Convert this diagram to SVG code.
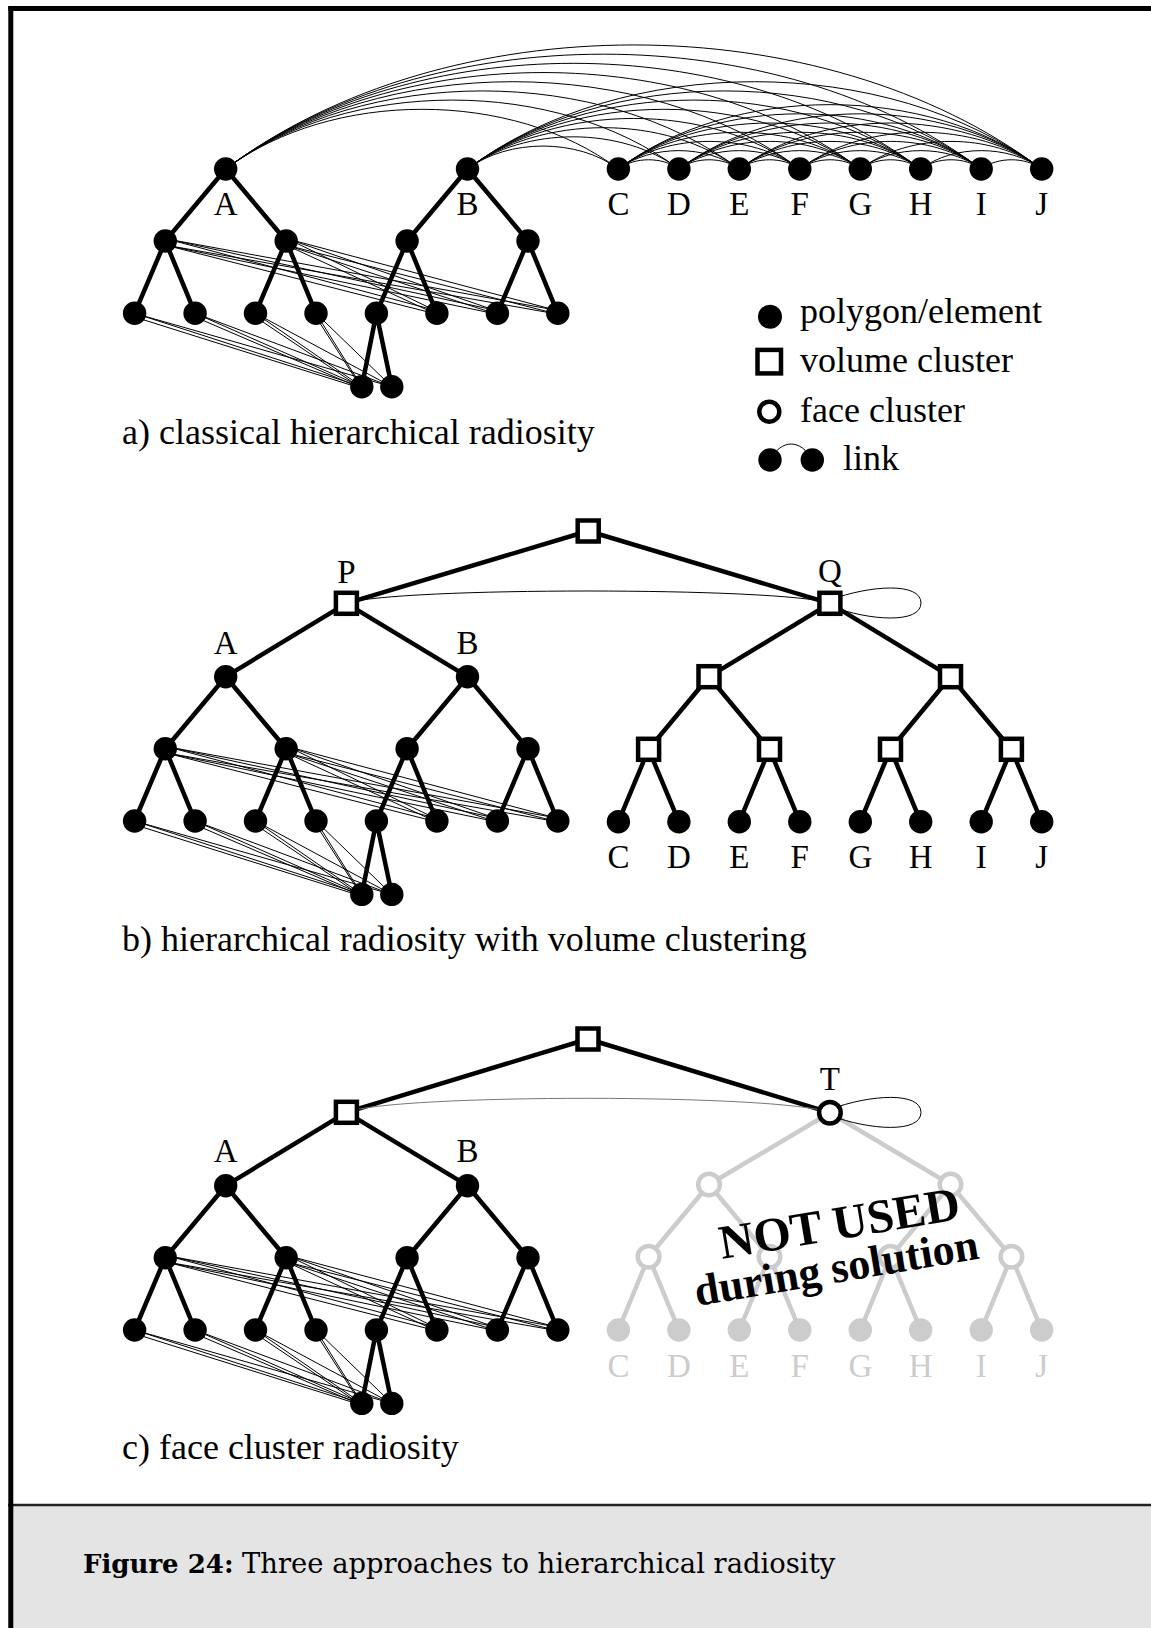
<svg xmlns="http://www.w3.org/2000/svg" width="1151" height="1628" viewBox="0 0 1151 1628">
<style>
.e{stroke:#000;stroke-width:4.5;fill:none}
.g{stroke:#ccc;stroke-width:4.5;fill:none}
.k{stroke:#000;stroke-width:1;fill:none}
.n{fill:#000}
.gn{fill:#ccc}
.v{fill:#fff;stroke:#000;stroke-width:4.5}
.f{fill:#fff;stroke:#000;stroke-width:4.5}
.gf{fill:#fff;stroke:#ccc;stroke-width:4.5}
.t{font-family:"Liberation Serif","Times New Roman",serif;font-size:33px;text-anchor:middle;fill:#000}
.gt{fill:#ccc}
.c{font-family:"Liberation Serif","Times New Roman",serif;font-size:36px;fill:#000}
.nu{font-family:"Liberation Serif","Times New Roman",serif;font-weight:bold;fill:#000}
</style>
<defs>
<path id="leftEdges" d="M225.7,169L165.3,241M225.7,169L286.2,241M467.5,169L407.1,241M467.5,169L528,241M165.3,241L134.6,313.3M165.3,241L195.1,313.3M286.2,241L255.5,313.3M286.2,241L316,313.3M407.1,241L376.4,313.3M407.1,241L436.9,313.3M528,241L497.4,313.3M528,241L557.8,313.3M376.4,313.3L361.8,386.7M376.4,313.3L391.8,386.7"/>
<path id="leftLinks" d="M167,239L434,310M165,245L436,314M167,239L494,310M165,245L496,314M167,239L555,310M165,245L557,314M288,239L434,310M286,245L436,314M288,239L494,310M286,245L496,314M288,239L555,310M286,245L557,314M134.6,313.3L361.8,386.7M134.6,317L361.8,388.5M134.6,313.3L391.8,386.7M195.1,313.3L361.8,386.7M195.1,317L361.8,388.5M195.1,313.3L391.8,386.7M255.5,313.3L361.8,386.7M255.5,317L361.8,388.5M255.5,313.3L391.8,386.7M316,313.3L361.8,386.7M316,317L361.8,388.5M316,313.3L391.8,386.7"/>
</defs>

<rect x="0" y="0" width="1151" height="1628" fill="#fff"/>
<rect x="8" y="1505" width="1143" height="123" fill="#e4e4e4"/>
<line x1="8" y1="1505" x2="1151" y2="1505" stroke="#222" stroke-width="2.5"/>
<line x1="10.8" y1="6" x2="10.8" y2="1628" stroke="#000" stroke-width="5"/>
<line x1="8.3" y1="8.5" x2="1151" y2="8.5" stroke="#000" stroke-width="5"/>

<g id="connectors">
  <g id="conn-a">
    <use href="#leftEdges" class="e"/>
    <use href="#leftLinks" class="k"/>
    <path class="k" d="M225.7,169C331.7,89.4 512.4,89.4 618.4,169M225.7,169C348.1,77.1 556.5,77.1 678.9,169M225.7,169C364.4,64.9 600.6,64.9 739.3,169M225.7,169C380.7,52.6 644.8,52.6 799.8,169M225.7,169C397,40.4 689,40.4 860.3,169M225.7,169C413.4,28.1 733,28.1 920.7,169M225.7,169C429.7,15.9 777.2,15.9 981.2,169M225.7,169C446,3.6 821.4,3.6 1041.7,169"/>
    <path class="k" d="M467.5,169C508.2,138.4 577.7,138.4 618.4,169M467.5,169C524.6,126.1 621.8,126.1 678.9,169M467.5,169C540.9,113.9 665.9,113.9 739.3,169M467.5,169C557.2,101.6 710.1,101.6 799.8,169M467.5,169C573.6,89.4 754.2,89.4 860.3,169M467.5,169C589.9,77.1 798.3,77.1 920.7,169M467.5,169C606.2,64.9 842.5,64.9 981.2,169M467.5,169C622.5,52.6 886.7,52.6 1041.7,169"/>
    <path class="k" d="M618.4,169C634.7,156.7 662.6,156.7 678.9,169M618.4,169C651.1,144.5 706.6,144.5 739.3,169M618.4,169C667.4,132.2 750.8,132.2 799.8,169M618.4,169C683.7,120 795,120 860.3,169M618.4,169C700,107.7 839.1,107.7 920.7,169M618.4,169C716.4,95.4 883.2,95.4 981.2,169M618.4,169C732.7,83.2 927.4,83.2 1041.7,169
M678.9,169C695.2,156.7 723,156.7 739.3,169M678.9,169C711.6,144.5 767.1,144.5 799.8,169M678.9,169C727.9,132.2 811.3,132.2 860.3,169M678.9,169C744.2,120 855.4,120 920.7,169M678.9,169C760.5,107.7 899.6,107.7 981.2,169M678.9,169C776.9,95.4 943.7,95.4 1041.7,169
M739.3,169C755.6,156.7 783.5,156.7 799.8,169M739.3,169C772,144.5 827.6,144.5 860.3,169M739.3,169C788.3,132.2 871.7,132.2 920.7,169M739.3,169C804.6,120 915.9,120 981.2,169M739.3,169C820.9,107.7 960.1,107.7 1041.7,169
M799.8,169C816.1,156.7 844,156.7 860.3,169M799.8,169C832.5,144.5 888,144.5 920.7,169M799.8,169C848.8,132.2 932.2,132.2 981.2,169M799.8,169C865.1,120 976.4,120 1041.7,169
M860.3,169C876.6,156.7 904.4,156.7 920.7,169M860.3,169C893,144.5 948.5,144.5 981.2,169M860.3,169C909.3,132.2 992.7,132.2 1041.7,169
M920.7,169C937,156.7 964.9,156.7 981.2,169M920.7,169C953.4,144.5 1009,144.5 1041.7,169
M981.2,169C997.5,156.7 1025.4,156.7 1041.7,169"/>
  </g>
  <g id="conn-b">
    <g transform="translate(0,507.7)">
      <use href="#leftEdges" class="e"/>
      <use href="#leftLinks" class="k"/>
    </g>
    <path class="e" d="M588.2,531L346.4,603.3M588.2,531L829.9,603.3M346.4,603.3L225.7,676.7M346.4,603.3L467.5,676.7M829.9,603.3L709,676.7M829.9,603.3L950.5,676.7M709,676.7L648.6,749.3M709,676.7L769.5,749.3M950.5,676.7L890.5,749.3M950.5,676.7L1011.4,749.3M648.6,749.3L618.4,821.7M648.6,749.3L678.9,821.7M769.5,749.3L739.3,821.7M769.5,749.3L799.8,821.7M890.5,749.3L860.3,821.7M890.5,749.3L920.7,821.7M1011.4,749.3L981.2,821.7M1011.4,749.3L1041.7,821.7"/>
    <path class="k" d="M346.4,603.3C394.4,586.9 781.9,586.9 829.9,603.3"/>
    <path class="k" d="M830,600C870,585 921,582 921,603C921,624 870,621 830,606"/>
  </g>
  <g id="conn-c">
    <g transform="translate(0,1016.7)">
      <use href="#leftEdges" class="e"/>
      <use href="#leftLinks" class="k"/>
    </g>
    <path class="g" d="M829.9,1112.7L709,1184.5M829.9,1112.7L950.5,1184.5M709,1184.5L648.6,1256.7M709,1184.5L769.5,1256.7M950.5,1184.5L890.5,1256.7M950.5,1184.5L1011.4,1256.7M648.6,1256.7L618.4,1330M648.6,1256.7L678.9,1330M769.5,1256.7L739.3,1330M769.5,1256.7L799.8,1330M890.5,1256.7L860.3,1330M890.5,1256.7L920.7,1330M1011.4,1256.7L981.2,1330M1011.4,1256.7L1041.7,1330"/>
    <path class="e" d="M588,1039L346.4,1112.3M588,1039L829.9,1112.7M346.4,1112.3L225.7,1185.7M346.4,1112.3L467.5,1185.7"/>
    <path d="M346.4,1112.3C394.4,1093.6 781.9,1093.6 829.9,1112.7" fill="none" stroke="#777" stroke-width="1"/>
    <path class="k" d="M830,1109.4C870,1094.4 921,1091.4 921,1112.4C921,1133.4 870,1130.4 830,1115.4"/>
  </g>
</g>

<!-- Tree a -->
<g id="tree-a">
  <g id="a-A"><circle class="n" cx="225.7" cy="169" r="11.7"/><text class="t" x="225.7" y="215">A</text></g>
  <g id="a-B"><circle class="n" cx="467.5" cy="169" r="11.7"/><text class="t" x="467.5" y="215">B</text></g>
  <g id="a-L0"><circle class="n" cx="165.3" cy="241" r="11.7"/></g>
  <g id="a-L1"><circle class="n" cx="286.2" cy="241" r="11.7"/></g>
  <g id="a-L2"><circle class="n" cx="407.1" cy="241" r="11.7"/></g>
  <g id="a-L3"><circle class="n" cx="528" cy="241" r="11.7"/></g>
  <g id="a-k0"><circle class="n" cx="134.6" cy="313.3" r="11.7"/></g>
  <g id="a-k1"><circle class="n" cx="195.1" cy="313.3" r="11.7"/></g>
  <g id="a-k2"><circle class="n" cx="255.5" cy="313.3" r="11.7"/></g>
  <g id="a-k3"><circle class="n" cx="316" cy="313.3" r="11.7"/></g>
  <g id="a-k4"><circle class="n" cx="376.4" cy="313.3" r="11.7"/></g>
  <g id="a-k5"><circle class="n" cx="436.9" cy="313.3" r="11.7"/></g>
  <g id="a-k6"><circle class="n" cx="497.4" cy="313.3" r="11.7"/></g>
  <g id="a-k7"><circle class="n" cx="557.8" cy="313.3" r="11.7"/></g>
  <g id="a-e1"><circle class="n" cx="361.8" cy="386.7" r="11.7"/></g>
  <g id="a-e2"><circle class="n" cx="391.8" cy="386.7" r="11.7"/></g>
  <g id="a-C"><circle class="n" cx="618.4" cy="169" r="11.7"/><text class="t" x="618.4" y="215">C</text></g>
  <g id="a-D"><circle class="n" cx="678.9" cy="169" r="11.7"/><text class="t" x="678.9" y="215">D</text></g>
  <g id="a-E"><circle class="n" cx="739.3" cy="169" r="11.7"/><text class="t" x="739.3" y="215">E</text></g>
  <g id="a-F"><circle class="n" cx="799.8" cy="169" r="11.7"/><text class="t" x="799.8" y="215">F</text></g>
  <g id="a-G"><circle class="n" cx="860.3" cy="169" r="11.7"/><text class="t" x="860.3" y="215">G</text></g>
  <g id="a-H"><circle class="n" cx="920.7" cy="169" r="11.7"/><text class="t" x="920.7" y="215">H</text></g>
  <g id="a-I"><circle class="n" cx="981.2" cy="169" r="11.7"/><text class="t" x="981.2" y="215">I</text></g>
  <g id="a-J"><circle class="n" cx="1041.7" cy="169" r="11.7"/><text class="t" x="1041.7" y="215">J</text></g>
  <text class="c" x="122" y="444">a) classical hierarchical radiosity</text>
</g>

<!-- Legend -->
<g id="legend">
  <g id="leg-poly"><circle class="n" cx="770" cy="316.7" r="12"/><text class="c" x="800" y="323">polygon/element</text></g>
  <g id="leg-vol"><rect class="v" x="757.5" y="349.9" width="23.5" height="23.5"/><text class="c" x="800" y="371.7">volume cluster</text></g>
  <g id="leg-face"><circle class="f" cx="769.3" cy="411.7" r="10"/><text class="c" x="800" y="421.7">face cluster</text></g>
  <g id="leg-link"><path class="k" d="M770,460C781.4,438.7 800.9,438.7 812.3,460"/><circle class="n" cx="770" cy="460" r="11.7"/><circle class="n" cx="812.3" cy="460" r="11.7"/><text class="c" x="843" y="470">link</text></g>
</g>

<!-- Tree b -->
<g id="tree-b">
  <g id="b-root"><rect class="v" x="577.7" y="520.5" width="21" height="21"/></g>
  <g id="b-P"><rect class="v" x="335.9" y="592.8" width="21" height="21"/><text class="t" x="346.4" y="582.7">P</text></g>
  <g id="b-Q"><rect class="v" x="819.4" y="592.8" width="21" height="21"/><text class="t" x="829.9" y="581.7">Q</text></g>
  <g transform="translate(0,507.7)">
    <g id="b-A"><circle class="n" cx="225.7" cy="169" r="11.7"/><text class="t" x="225.7" y="146.6">A</text></g>
    <g id="b-B"><circle class="n" cx="467.5" cy="169" r="11.7"/><text class="t" x="467.5" y="146.6">B</text></g>
    <g id="b-L0"><circle class="n" cx="165.3" cy="241" r="11.7"/></g>
    <g id="b-L1"><circle class="n" cx="286.2" cy="241" r="11.7"/></g>
    <g id="b-L2"><circle class="n" cx="407.1" cy="241" r="11.7"/></g>
    <g id="b-L3"><circle class="n" cx="528" cy="241" r="11.7"/></g>
    <g id="b-k0"><circle class="n" cx="134.6" cy="313.3" r="11.7"/></g>
    <g id="b-k1"><circle class="n" cx="195.1" cy="313.3" r="11.7"/></g>
    <g id="b-k2"><circle class="n" cx="255.5" cy="313.3" r="11.7"/></g>
    <g id="b-k3"><circle class="n" cx="316" cy="313.3" r="11.7"/></g>
    <g id="b-k4"><circle class="n" cx="376.4" cy="313.3" r="11.7"/></g>
    <g id="b-k5"><circle class="n" cx="436.9" cy="313.3" r="11.7"/></g>
    <g id="b-k6"><circle class="n" cx="497.4" cy="313.3" r="11.7"/></g>
    <g id="b-k7"><circle class="n" cx="557.8" cy="313.3" r="11.7"/></g>
    <g id="b-e1"><circle class="n" cx="361.8" cy="386.7" r="11.7"/></g>
    <g id="b-e2"><circle class="n" cx="391.8" cy="386.7" r="11.7"/></g>
  </g>
  <g id="b-S1"><rect class="v" x="698.5" y="666.2" width="21" height="21"/></g>
  <g id="b-S2"><rect class="v" x="940" y="666.2" width="21" height="21"/></g>
  <g id="b-T1"><rect class="v" x="638.1" y="738.8" width="21" height="21"/></g>
  <g id="b-T2"><rect class="v" x="759" y="738.8" width="21" height="21"/></g>
  <g id="b-T3"><rect class="v" x="880" y="738.8" width="21" height="21"/></g>
  <g id="b-T4"><rect class="v" x="1000.9" y="738.8" width="21" height="21"/></g>
  <g id="b-C"><circle class="n" cx="618.4" cy="821.7" r="11.7"/><text class="t" x="618.4" y="868">C</text></g>
  <g id="b-D"><circle class="n" cx="678.9" cy="821.7" r="11.7"/><text class="t" x="678.9" y="868">D</text></g>
  <g id="b-E"><circle class="n" cx="739.3" cy="821.7" r="11.7"/><text class="t" x="739.3" y="868">E</text></g>
  <g id="b-F"><circle class="n" cx="799.8" cy="821.7" r="11.7"/><text class="t" x="799.8" y="868">F</text></g>
  <g id="b-G"><circle class="n" cx="860.3" cy="821.7" r="11.7"/><text class="t" x="860.3" y="868">G</text></g>
  <g id="b-H"><circle class="n" cx="920.7" cy="821.7" r="11.7"/><text class="t" x="920.7" y="868">H</text></g>
  <g id="b-I"><circle class="n" cx="981.2" cy="821.7" r="11.7"/><text class="t" x="981.2" y="868">I</text></g>
  <g id="b-J"><circle class="n" cx="1041.7" cy="821.7" r="11.7"/><text class="t" x="1041.7" y="868">J</text></g>
  <text class="c" x="122" y="951">b) hierarchical radiosity with volume clustering</text>
</g>

<!-- Tree c -->
<g id="tree-c">
  <g id="c-root"><rect class="v" x="577.5" y="1028.5" width="21" height="21"/></g>
  <g id="c-P"><rect class="v" x="335.9" y="1101.8" width="21" height="21"/></g>
  <g id="c-T"><circle class="f" cx="829.9" cy="1112.7" r="10.8"/><text class="t" x="829.9" y="1090">T</text></g>
  <g transform="translate(0,1016.7)">
    <g id="c-A"><circle class="n" cx="225.7" cy="169" r="11.7"/><text class="t" x="225.7" y="145">A</text></g>
    <g id="c-B"><circle class="n" cx="467.5" cy="169" r="11.7"/><text class="t" x="467.5" y="145">B</text></g>
    <g id="c-L0"><circle class="n" cx="165.3" cy="241" r="11.7"/></g>
    <g id="c-L1"><circle class="n" cx="286.2" cy="241" r="11.7"/></g>
    <g id="c-L2"><circle class="n" cx="407.1" cy="241" r="11.7"/></g>
    <g id="c-L3"><circle class="n" cx="528" cy="241" r="11.7"/></g>
    <g id="c-k0"><circle class="n" cx="134.6" cy="313.3" r="11.7"/></g>
    <g id="c-k1"><circle class="n" cx="195.1" cy="313.3" r="11.7"/></g>
    <g id="c-k2"><circle class="n" cx="255.5" cy="313.3" r="11.7"/></g>
    <g id="c-k3"><circle class="n" cx="316" cy="313.3" r="11.7"/></g>
    <g id="c-k4"><circle class="n" cx="376.4" cy="313.3" r="11.7"/></g>
    <g id="c-k5"><circle class="n" cx="436.9" cy="313.3" r="11.7"/></g>
    <g id="c-k6"><circle class="n" cx="497.4" cy="313.3" r="11.7"/></g>
    <g id="c-k7"><circle class="n" cx="557.8" cy="313.3" r="11.7"/></g>
    <g id="c-e1"><circle class="n" cx="361.8" cy="386.7" r="11.7"/></g>
    <g id="c-e2"><circle class="n" cx="391.8" cy="386.7" r="11.7"/></g>
  </g>
  <g id="c-S1"><circle class="gf" cx="709" cy="1184.5" r="10.8"/></g>
  <g id="c-S2"><circle class="gf" cx="950.5" cy="1184.5" r="10.8"/></g>
  <g id="c-T1"><circle class="gf" cx="648.6" cy="1256.7" r="10.8"/></g>
  <g id="c-T2"><circle class="gf" cx="769.5" cy="1256.7" r="10.8"/></g>
  <g id="c-T3"><circle class="gf" cx="890.5" cy="1256.7" r="10.8"/></g>
  <g id="c-T4"><circle class="gf" cx="1011.4" cy="1256.7" r="10.8"/></g>
  <g id="c-C"><circle class="gn" cx="618.4" cy="1330" r="11.7"/><text class="t gt" x="618.4" y="1376.7">C</text></g>
  <g id="c-D"><circle class="gn" cx="678.9" cy="1330" r="11.7"/><text class="t gt" x="678.9" y="1376.7">D</text></g>
  <g id="c-E"><circle class="gn" cx="739.3" cy="1330" r="11.7"/><text class="t gt" x="739.3" y="1376.7">E</text></g>
  <g id="c-F"><circle class="gn" cx="799.8" cy="1330" r="11.7"/><text class="t gt" x="799.8" y="1376.7">F</text></g>
  <g id="c-G"><circle class="gn" cx="860.3" cy="1330" r="11.7"/><text class="t gt" x="860.3" y="1376.7">G</text></g>
  <g id="c-H"><circle class="gn" cx="920.7" cy="1330" r="11.7"/><text class="t gt" x="920.7" y="1376.7">H</text></g>
  <g id="c-I"><circle class="gn" cx="981.2" cy="1330" r="11.7"/><text class="t gt" x="981.2" y="1376.7">I</text></g>
  <g id="c-J"><circle class="gn" cx="1041.7" cy="1330" r="11.7"/><text class="t gt" x="1041.7" y="1376.7">J</text></g>
  <text class="nu" font-size="48" x="722" y="1259" transform="rotate(-9.5 722 1259)">NOT USED</text>
  <text class="nu" font-size="44" x="697" y="1306" transform="rotate(-9.5 697 1306)">during solution</text>
  <text class="c" x="122" y="1459">c) face cluster radiosity</text>
</g>

<g id="caption" font-family="'DejaVu Serif', serif" fill="#000">
  <text x="83" y="1573" font-weight="bold" font-size="26">Figure 24:</text>
  <text x="242" y="1573" font-size="27.4">Three approaches to hierarchical radiosity</text>
</g>
</svg>
